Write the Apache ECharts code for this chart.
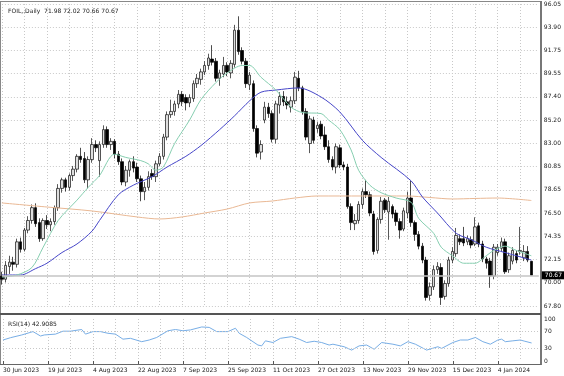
<!DOCTYPE html>
<html>
<head>
<meta charset="utf-8">
<script src="https://cdn.jsdelivr.net/npm/echarts@6/dist/echarts.min.js"></script>
<style>
  html, body { margin: 0; padding: 0; background: #fff; }
  #chart { width: 564px; height: 376px; }
</style>
</head>
<body>
<div id="chart"></div>
<script>
// trading days on the chart, by month
const months = [
  ['Jun 2023', [30]],
  ['Jul 2023', [3, 5, 6, 7, 10, 11, 12, 13, 14, 17, 18, 19, 20, 21, 24, 25, 26, 27, 28, 31]],
  ['Aug 2023', [1, 2, 3, 4, 7, 8, 9, 10, 11, 14, 15, 16, 17, 18, 21, 22, 23, 24, 25, 28, 29, 30, 31]],
  ['Sep 2023', [1, 4, 5, 6, 7, 8, 11, 12, 13, 14, 15, 18, 19, 20, 21, 22, 25, 26, 27, 28, 29]],
  ['Oct 2023', [2, 3, 4, 5, 6, 9, 10, 11, 12, 13, 16, 17, 18, 19, 20, 23, 24, 25, 26, 27, 30, 31]],
  ['Nov 2023', [1, 2, 3, 5, 6, 7, 8, 9, 10, 13, 14, 15, 16, 17, 20, 21, 22, 23, 24, 27, 28, 29, 30]],
  ['Dec 2023', [1, 4, 5, 6, 7, 8, 11, 12, 13, 14, 15, 18, 19, 20, 21, 22, 26, 27, 28, 29]],
  ['Jan 2024', [2, 3, 4, 5, 8, 9, 10, 11, 12, 15, 16, 17]]
];
const dates = [];
months.forEach(([m, days]) => days.forEach(d => dates.push(d + ' ' + m)));

// daily OHLC
const opens = [
  70.6, 70.3, 71.5, 71.9, 71.7, 73.8, 73.1, 74.9, 75.8, 77.0,
  75.6, 74.1, 75.8, 75.4, 75.7, 77.0, 78.8, 79.6, 78.9, 80.0,
  80.6, 81.8, 81.6, 79.6, 81.5, 82.9, 81.4, 82.9, 84.3, 82.9,
  83.2, 82.0, 81.3, 79.4, 80.5, 81.3, 80.8, 79.7, 78.5, 78.9,
  80.2, 79.9, 81.1, 81.8, 83.6, 85.7, 86.0, 86.7, 87.6, 87.3,
  86.8, 87.2, 88.6, 89.0, 89.7, 90.3, 90.9, 90.7, 89.1, 89.5,
  90.3, 89.6, 90.4, 93.6, 91.7, 90.7, 88.5, 88.6, 84.4, 82.2,
  85.2, 86.4, 85.8, 83.4, 86.6, 87.4, 86.9, 86.4, 87.0, 89.1,
  88.2, 86.0, 83.0, 85.2, 84.4, 84.8, 83.8, 82.7, 81.5, 80.8,
  82.6, 81.0, 80.8, 77.1, 75.5, 75.8, 77.3, 78.5, 78.2, 76.4,
  73.0, 75.9, 77.7, 76.6, 77.1, 76.5, 75.7, 75.0, 76.5, 77.9,
  75.6, 74.5, 73.4, 72.1, 68.8, 69.6, 71.2, 71.4, 68.7, 69.9,
  72.1, 72.7, 74.1, 74.1, 73.8, 74.0, 73.6, 75.3, 73.6, 72.2,
  72.0, 70.6, 72.8, 73.2, 73.8, 71.2, 72.0, 72.7, 72.9, 72.3,
  72.9, 71.98
];
const highs = [
  71.0, 72.0, 72.5, 72.4, 74.1, 74.2, 75.1, 76.2, 77.3, 77.4,
  76.0, 76.0, 76.3, 76.0, 77.2, 79.2, 79.8, 79.8, 80.2, 80.9,
  82.0, 82.6, 82.2, 81.8, 83.5, 83.3, 83.2, 84.7, 84.6, 83.5,
  83.4, 82.3, 81.6, 80.9, 81.5, 81.8, 81.2, 80.0, 79.4, 80.4,
  80.6, 81.4, 82.1, 83.9, 86.0, 87.1, 87.0, 88.0, 87.9, 87.6,
  87.6, 88.9, 89.5, 90.0, 90.7, 91.4, 92.2, 91.0, 89.9, 91.1,
  90.6, 90.8, 94.1, 94.9, 92.0, 91.0, 89.7, 88.9, 84.7, 83.3,
  86.9, 86.8, 86.1, 87.0, 87.8, 87.9, 87.4, 87.4, 89.7, 89.8,
  88.4, 86.3, 85.6, 85.5, 85.0, 85.1, 84.6, 83.3, 81.8, 83.0,
  82.9, 81.3, 81.1, 77.4, 76.4, 77.6, 78.8, 79.6, 78.5, 76.7,
  76.1, 78.0, 77.9, 78.0, 77.3, 76.8, 76.0, 77.0, 78.5, 79.5,
  75.8, 74.8, 73.7, 72.4, 70.0, 71.6, 71.9, 71.8, 70.2, 72.4,
  73.3, 75.1, 74.5, 75.2, 74.4, 74.3, 76.1, 75.6, 73.9, 72.4,
  72.3, 73.6, 73.6, 74.2, 74.1, 72.8, 73.3, 73.0, 75.2, 73.5,
  73.4, 72.02
];
const lows = [
  69.8, 70.0, 70.8, 71.1, 71.4, 72.8, 72.9, 74.6, 75.5, 75.2,
  73.8, 73.9, 75.0, 74.8, 75.4, 76.7, 78.4, 78.5, 78.6, 79.5,
  80.3, 81.2, 79.3, 78.8, 81.2, 82.2, 79.9, 82.6, 82.6, 82.4,
  81.6, 81.0, 79.1, 79.0, 79.9, 80.3, 79.4, 77.6, 77.7, 78.6,
  79.6, 79.4, 80.9, 81.5, 83.3, 85.4, 85.6, 86.3, 86.5, 86.1,
  86.4, 86.9, 88.2, 88.5, 89.4, 89.9, 90.3, 88.8, 88.4, 89.2,
  89.3, 89.1, 90.1, 91.3, 90.4, 88.2, 88.0, 84.1, 81.7, 81.5,
  84.9, 85.4, 83.1, 83.0, 85.8, 86.5, 86.2, 85.9, 86.7, 87.9,
  85.7, 83.3, 82.1, 83.0, 84.0, 83.4, 82.4, 81.2, 80.5, 80.2,
  80.7, 80.5, 76.9, 74.9, 74.9, 75.5, 76.9, 77.9, 76.2, 72.6,
  72.7, 75.5, 76.5, 74.0, 76.0, 75.3, 74.1, 74.8, 76.0, 75.2,
  73.9, 73.1, 71.8, 68.3, 68.3, 69.3, 70.8, 67.9, 68.4, 69.6,
  71.8, 72.4, 73.5, 73.4, 73.5, 73.2, 73.4, 73.3, 71.9, 71.3,
  69.5, 70.3, 72.5, 72.9, 70.8, 70.9, 71.7, 71.8, 72.6, 72.0,
  71.9, 70.66
];
const closes = [
  70.3, 71.6, 71.9, 71.7, 73.8, 73.1, 74.9, 75.8, 77.0, 75.5,
  74.1, 75.8, 75.4, 75.7, 77.0, 78.8, 79.6, 78.9, 80.0, 80.6,
  81.8, 81.5, 79.6, 81.5, 82.9, 82.6, 82.9, 84.3, 82.9, 83.2,
  82.0, 81.3, 79.4, 80.5, 81.3, 80.7, 79.7, 78.5, 78.9, 79.9,
  79.9, 81.1, 81.8, 83.6, 85.7, 86.0, 86.7, 87.6, 86.9, 86.8,
  87.3, 88.6, 89.1, 89.7, 90.3, 91.0, 90.6, 89.1, 89.6, 90.3,
  89.7, 90.5, 93.6, 91.6, 90.7, 88.6, 89.4, 84.4, 82.1, 82.9,
  86.4, 85.8, 83.4, 86.7, 87.4, 86.9, 86.6, 87.0, 89.2, 88.2,
  86.0, 83.6, 85.3, 83.3, 84.7, 83.7, 82.7, 81.5, 80.8, 82.7,
  81.0, 80.8, 77.1, 75.6, 75.8, 77.3, 78.5, 78.2, 76.5, 72.9,
  75.9, 77.6, 76.8, 77.6, 76.4, 75.7, 74.9, 76.7, 77.9, 75.6,
  74.5, 73.4, 72.1, 68.6, 69.6, 71.2, 71.5, 68.6, 69.9, 72.1,
  72.9, 74.4, 73.8, 73.7, 74.1, 73.5, 75.2, 73.6, 72.2, 71.8,
  70.6, 73.3, 73.3, 73.8, 71.0, 72.5, 73.0, 72.1, 73.0, 72.9,
  72.1, 70.67
];

// moving averages: [bar, value]
const maFast = [
  [0, 70.5], [4, 70.7], [8, 71.4], [11, 73.3], [15, 75.8], [20, 77.7], [23, 78.9],
  [26, 80.0], [30, 82.0], [33, 81.7], [37, 81.4], [39, 81.1], [41, 80.5], [43, 80.8],
  [46, 83.0], [50, 85.2], [53, 87.1], [57, 88.7], [60, 89.6], [64, 90.3], [66, 90.3],
  [69, 89.2], [73, 88.0], [77, 86.4], [80, 85.9], [85, 85.8], [87, 85.2], [90, 84.3],
  [93, 82.4], [95, 80.5], [98, 79.1], [101, 78.4], [105, 77.9], [109, 77.5], [111, 76.0],
  [115, 74.6], [117, 73.3], [120, 72.5], [123, 71.8], [126, 71.8], [129, 72.5],
  [131, 73.0], [134, 73.4], [137, 73.0], [141, 72.5]
];
const maMid = [
  [0, 70.7], [5, 70.7], [9, 71.3], [12, 71.8], [16, 72.8], [20, 73.6], [24, 74.8],
  [26, 75.8], [31, 78.2], [35, 79.1], [40, 79.9], [44, 80.8], [49, 81.8], [53, 82.8],
  [58, 84.3], [62, 85.6], [66, 87.0], [69, 87.8], [73, 88.0], [79, 88.2], [85, 87.35],
  [90, 85.95], [96, 83.3], [101, 81.7], [109, 79.5], [112, 78.0], [116, 76.5],
  [121, 74.6], [125, 74.0], [129, 73.3], [134, 72.8], [141, 72.1]
];
const maSlow = [
  [0, 77.44], [12, 77.06], [24, 76.69], [36, 76.13], [42, 75.94], [48, 76.13],
  [54, 76.5], [60, 76.87], [66, 77.44], [72, 77.62], [78, 77.9], [84, 78.09],
  [96, 78.09], [108, 78.09], [114, 77.95], [120, 77.81], [126, 77.86], [132, 77.9],
  [141, 77.67]
];

// RSI(14): [bar, value]
const rsi = [
  [0, 50], [2, 55.5], [5, 62], [8, 70], [10, 59.5], [11, 62], [14, 64], [16, 71],
  [18, 71], [21, 75], [22, 64], [24, 70], [26, 70], [28, 66], [30, 64], [32, 52],
  [34, 54], [37, 46], [39, 50], [41, 56], [44, 72], [46, 75], [48, 72], [50, 74],
  [53, 81], [55, 80], [57, 70], [60, 70], [62, 78], [63, 66], [65, 56], [68, 38],
  [69, 36], [70, 48], [72, 44], [74, 54], [77, 58], [79, 52], [81, 44], [83, 47],
  [85, 44], [87, 38], [88, 40], [91, 34], [93, 26], [95, 36], [97, 38], [99, 28],
  [101, 44], [104, 40], [106, 36], [108, 46], [110, 40], [113, 26], [116, 34],
  [117, 30], [120, 44], [122, 50], [124, 50], [126, 56], [128, 46], [130, 40],
  [132, 50], [133, 52], [134, 46], [136, 48], [138, 50], [139, 47.5], [141, 42.9]
];

const priceTicks = ['67.80', '70.00', '72.15', '74.35', '76.50', '78.65', '80.85',
  '83.00', '85.20', '87.40', '89.55', '91.75', '93.90', '96.05'];
const rsiTicks = [0, 30, 70, 100];
const rsiLevels = [30, 70];

const font = 'DejaVu Sans';
const txt = { color: '#222', fontFamily: font, fontSize: 6 };
const dotted = { show: true, lineStyle: { color: '#c8c8c8', width: 1, type: [1, 2] } };
const candles = opens.map((o, i) => [o, closes[i], lows[i], highs[i]]);
const lastClose = closes[closes.length - 1];

const chart = echarts.init(document.getElementById('chart'));
chart.setOption({
  animation: false,
  backgroundColor: '#fff',
  title: [
    { text: 'FOIL,.Daily  ' + [opens, highs, lows, closes].map(a => a[a.length - 1].toFixed(2)).join(' '),
      left: 3, top: 3, textStyle: Object.assign({ fontWeight: 'normal' }, txt) },
    { text: 'RSI(14) 42.9085', left: 3, top: 316,
      textStyle: Object.assign({ fontWeight: 'normal' }, txt) }
  ],
  grid: [
    { left: 1.88, right: 24.9, top: 4, height: 302 },
    { left: 1.88, right: 24.9, top: 319, height: 42 }
  ],
  xAxis: [
    { type: 'category', gridIndex: 0, data: dates, max: 143, boundaryGap: false,
      axisLine: { show: false }, axisTick: { show: false }, axisLabel: { show: false },
      splitLine: Object.assign({ interval: 5 }, dotted) },
    { type: 'category', gridIndex: 1, data: dates, max: 143, boundaryGap: false, offset: 3,
      axisLine: { show: false },
      axisTick: { show: true, interval: 11, length: 3, lineStyle: { color: '#555' } },
      axisLabel: Object.assign({ interval: 11, align: 'left', margin: 3 }, txt),
      splitLine: Object.assign({ interval: 5 }, dotted) }
  ],
  yAxis: [
    { type: 'value', gridIndex: 0, min: 67.80, max: 96.05, show: false },
    { type: 'value', gridIndex: 0, min: 0, max: 13, interval: 1, position: 'right',
      axisLine: { show: false }, axisTick: { show: false },
      axisLabel: Object.assign({ margin: 5, formatter: v => priceTicks[v] || '' }, txt),
      splitLine: dotted },
    { type: 'value', gridIndex: 1, min: 0, max: 100, interval: 10, position: 'right',
      axisLine: { show: false }, axisTick: { show: false }, splitLine: { show: false },
      axisLabel: Object.assign({ margin: 5, formatter: v => rsiTicks.includes(v) ? String(v) : '' }, txt) }
  ],
  series: [
    { type: 'line', xAxisIndex: 0, yAxisIndex: 0, data: maSlow, showSymbol: false, smooth: 0.3,
      lineStyle: { color: '#e9b894', width: 1 }, silent: true },
    { type: 'line', xAxisIndex: 0, yAxisIndex: 0, data: maMid, showSymbol: false, smooth: 0.3,
      lineStyle: { color: '#4646c8', width: 1 }, silent: true },
    { type: 'line', xAxisIndex: 0, yAxisIndex: 0, data: maFast, showSymbol: false, smooth: 0.3,
      lineStyle: { color: '#86ceb0', width: 1 }, silent: true },
    { type: 'candlestick', xAxisIndex: 0, yAxisIndex: 0, data: candles, barWidth: 3, clip: false,
      itemStyle: { color: '#dedede', color0: '#000', borderColor: '#111', borderColor0: '#000', borderWidth: 0.7 },
      markLine: {
        silent: true, symbol: 'none', animation: false,
        data: [{ yAxis: lastClose }],
        lineStyle: { color: '#c4c4c4', width: 1.5, type: 'solid' },
        label: { show: true, position: 'end', distance: 3, formatter: lastClose.toFixed(2),
          backgroundColor: '#000', color: '#fff', padding: [1, 3], fontSize: 6, fontFamily: font }
      } },
    { type: 'line', xAxisIndex: 1, yAxisIndex: 2, data: rsi, showSymbol: false,
      lineStyle: { color: '#78aee6', width: 1 }, silent: true,
      markLine: {
        silent: true, symbol: 'none', animation: false,
        data: rsiLevels.map(v => ({ yAxis: v })),
        lineStyle: { color: '#c8c8c8', width: 1, type: [1, 2] },
        label: { show: false }
      } }
  ],
  graphic: [
    { type: 'line', shape: { x1: 0, y1: 1.5, x2: 541, y2: 1.5 }, style: { stroke: '#888', lineWidth: 1 } },
    { type: 'line', shape: { x1: 0.5, y1: 1, x2: 0.5, y2: 364 }, style: { stroke: '#888', lineWidth: 1 } },
    { type: 'line', shape: { x1: 541, y1: 1, x2: 541, y2: 365 }, style: { stroke: '#777', lineWidth: 2 } },
    { type: 'line', shape: { x1: 0, y1: 314, x2: 541, y2: 314 }, style: { stroke: '#555', lineWidth: 2 } },
    { type: 'line', shape: { x1: 0, y1: 364.5, x2: 541, y2: 364.5 }, style: { stroke: '#666', lineWidth: 1 } }
  ]
});
</script>
</body>
</html>
